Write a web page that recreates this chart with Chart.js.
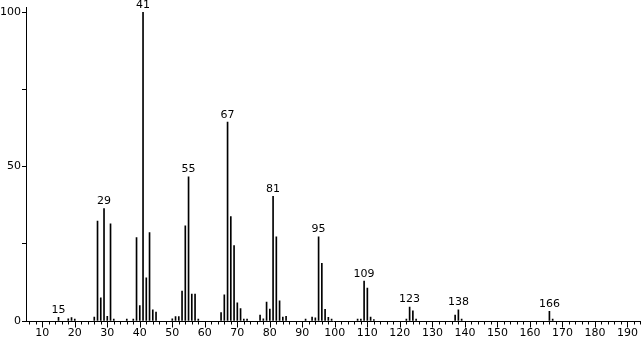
<!DOCTYPE html>
<html>
<head>
<meta charset="utf-8">
<script src="https://cdn.jsdelivr.net/npm/chart.js@4"></script>
<style>
  body { margin: 0; background: #fff; }
  #wrap { width: 644px; height: 339px; }
</style>
</head>
<body>
<div id="wrap"><canvas id="spectrum"></canvas></div>
<script>
// m/z values and relative intensities
const mz = [15, 18, 19, 20, 26, 27, 28, 29, 30, 31, 32, 36, 38, 39, 40, 41, 42, 43, 44, 45,
    50, 51, 52, 53, 54, 55, 56, 57, 58, 65, 66, 67, 68, 69, 70, 71, 72, 73, 77, 78, 79, 80,
    81, 82, 83, 84, 85, 91, 93, 94, 95, 96, 97, 98, 99, 107, 108, 109, 110, 111, 112,
    122, 123, 124, 125, 137, 138, 139, 166, 167];
const intensity = [1.2, 0.7, 1.1, 0.6, 1.3, 32.4, 7.5, 36.4, 1.5, 31.5, 0.6, 0.6, 0.6, 27, 5, 100, 14, 28.6, 3.6, 2.9,
    0.7, 1.4, 1.4, 9.7, 30.8, 46.7, 8.7, 8.7, 0.6, 2.7, 8.5, 64.4, 33.8, 24.4, 5.9, 4, 0.6, 0.6, 1.9, 0.7, 6.1, 3.9,
    40.4, 27.3, 6.5, 1.3, 1.5, 0.6, 1.3, 1, 27.3, 18.7, 3.8, 1.2, 0.6, 0.6, 0.6, 12.9, 10.7, 1.3, 0.5,
    0.6, 4.5, 3.3, 0.6, 1.9, 3.6, 0.6, 3.1, 0.6];
const labelledPeaks = [15, 29, 41, 55, 67, 81, 95, 109, 123, 138, 166];
const yLabels = [0, 50, 100];

const FONT = '11px "DejaVu Sans"';

// x axis tick marks (every 2, long ones every 10) and peak labels
const spectrumDecor = {
    id: 'spectrumDecor',
    afterDraw(chart) {
        const { ctx, scales: { x, y } } = chart;
        const base = Math.round(y.getPixelForValue(0)) + 0.5;
        ctx.save();
        ctx.strokeStyle = '#000';
        ctx.lineWidth = 1;
        ctx.beginPath();
        for (let m = 6; m <= x.max; m += 2) {
            const px = Math.round(x.getPixelForValue(m)) + 0.5;
            const len = m % 10 === 0 ? 6 : 3;
            ctx.moveTo(px, base);
            ctx.lineTo(px, base + len);
        }
        ctx.stroke();

        ctx.fillStyle = '#000';
        ctx.font = FONT;
        ctx.textAlign = 'center';
        ctx.textBaseline = 'bottom';
        labelledPeaks.forEach(m => {
            const i = mz.indexOf(m);
            const px = x.getPixelForValue(m);
            const py = y.getPixelForValue(intensity[i]);
            ctx.fillText(String(m), px, py - 2);
        });
        ctx.restore();
    }
};

(function () {
    const ctx = document.getElementById('spectrum');
    new Chart(ctx, {
        type: 'bar',
        data: {
            datasets: [{
                data: mz.map((m, i) => ({ x: m, y: intensity[i] })),
                backgroundColor: '#000',
                barThickness: 1,
                borderWidth: 0,
            }]
        },
        options: {
            responsive: true,
            maintainAspectRatio: false,
            animation: false,
            layout: { padding: { top: 5, right: 3, left: 0, bottom: 0 } },
            scales: {
                x: {
                    type: 'linear',
                    offset: false,
                    min: 5,
                    max: 194,
                    afterFit: (scale) => { scale.height = 18; },
                    grid: { display: false, offset: false, drawTicks: false },
                    border: { display: true, color: '#000', width: 1 },
                    ticks: {
                        stepSize: 10,
                        includeBounds: false,
                        autoSkip: false,
                        maxRotation: 0,
                        padding: 6,
                        color: '#000',
                        font: { family: 'DejaVu Sans', size: 11 },
                    }
                },
                y: {
                    min: 0,
                    max: 101.5,
                    afterFit: (scale) => { scale.width = 26; },
                    grid: { drawOnChartArea: false, drawTicks: true, tickLength: 4, tickColor: '#000' },
                    border: { display: true, color: '#000', width: 1 },
                    ticks: {
                        stepSize: 25,
                        includeBounds: false,
                        autoSkip: false,
                        padding: 1,
                        color: '#000',
                        font: { family: 'DejaVu Sans', size: 11 },
                        callback: (value) => yLabels.includes(value) ? String(value) : '',
                    }
                }
            },
            plugins: {
                legend: { display: false },
                tooltip: { enabled: false },
            },
        },
        plugins: [spectrumDecor]
    });
})();
</script>
</body>
</html>
